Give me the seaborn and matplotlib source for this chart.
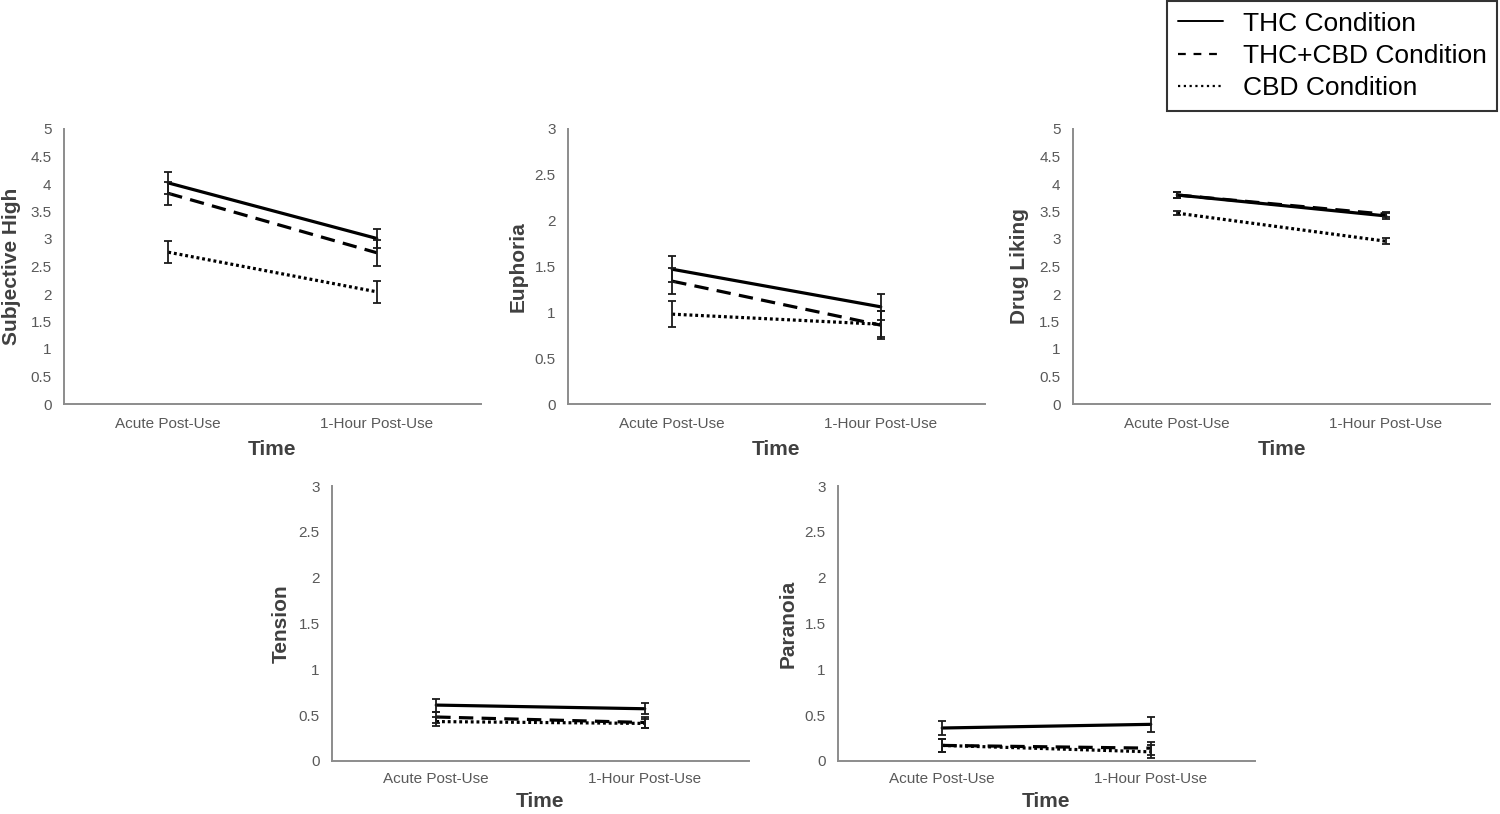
import numpy as np
import pandas as pd
import matplotlib
matplotlib.use("Agg")
import matplotlib.pyplot as plt
from matplotlib.lines import Line2D
from matplotlib.ticker import FuncFormatter, MultipleLocator
import seaborn as sns

sns.set_theme(style="white")
plt.rcParams['font.family'] = ['Liberation Sans', 'DejaVu Sans']

conditions = ["THC Condition", "THC+CBD Condition", "CBD Condition"]
times = ["Acute Post-Use", "1-Hour Post-Use"]

# Subjective High
high_thc = [4.02, 3.01]
high_thc_cbd = [3.83, 2.75]
high_cbd = [2.76, 2.04]
high_thc_err = [0.20, 0.18]
high_thc_cbd_err = [0.21, 0.24]
high_cbd_err = [0.20, 0.20]

# Euphoria
eup_thc = [1.47, 1.06]
eup_thc_cbd = [1.34, 0.86]
eup_cbd = [0.98, 0.87]
eup_thc_err = [0.14, 0.14]
eup_thc_cbd_err = [0.14, 0.15]
eup_cbd_err = [0.14, 0.14]

# Drug Liking
lik_thc = [3.80, 3.42]
lik_thc_cbd = [3.80, 3.45]
lik_cbd = [3.47, 2.96]
lik_thc_err = [0.05, 0.06]
lik_thc_cbd_err = [0.05, 0.05]
lik_cbd_err = [0.04, 0.05]

# Tension
ten_thc = [0.61, 0.57]
ten_thc_cbd = [0.48, 0.42]
ten_cbd = [0.43, 0.41]
ten_thc_err = [0.07, 0.06]
ten_thc_cbd_err = [0.06, 0.06]
ten_cbd_err = [0.05, 0.05]

# Paranoia
par_thc = [0.36, 0.40]
par_thc_cbd = [0.17, 0.14]
par_cbd = [0.17, 0.10]
par_thc_err = [0.08, 0.08]
par_thc_cbd_err = [0.07, 0.07]
par_cbd_err = [0.07, 0.07]

panels = [
    ("Subjective High", 5, [high_thc, high_thc_cbd, high_cbd], [high_thc_err, high_thc_cbd_err, high_cbd_err]),
    ("Euphoria", 3, [eup_thc, eup_thc_cbd, eup_cbd], [eup_thc_err, eup_thc_cbd_err, eup_cbd_err]),
    ("Drug Liking", 5, [lik_thc, lik_thc_cbd, lik_cbd], [lik_thc_err, lik_thc_cbd_err, lik_cbd_err]),
    ("Tension", 3, [ten_thc, ten_thc_cbd, ten_cbd], [ten_thc_err, ten_thc_cbd_err, ten_cbd_err]),
    ("Paranoia", 3, [par_thc, par_thc_cbd, par_cbd], [par_thc_err, par_thc_cbd_err, par_cbd_err]),
]

W, H = 1500, 814
fig = plt.figure(figsize=(15, 8.14), dpi=100)

# axes boxes in pixels: left, top, right, bottom
boxes = [
    (64, 129, 481, 404),
    (568, 129, 985, 404),
    (1073, 129, 1490, 404),
    (332, 486, 749, 761),
    (838, 486, 1255, 761),
]
ylab_x = [-0.104, -0.098, -0.105, -0.098, -0.098]
xlab_pad = [7, 7, 7, 4, 4]
xtick_pad = [9, 9, 9, 8, 8]

dash_map = {
    "THC Condition": "",
    "THC+CBD Condition": (4.5, 2.6),
    "CBD Condition": (0.9, 0.9),
}
tick_color = "#595959"
label_color = "#404040"
spine_color = "#8c8c8c"

for (name, ymax, means, errs), (l, t, r, b), lx, xp, tp in zip(panels, boxes, ylab_x, xlab_pad, xtick_pad):
    ax = fig.add_axes([l / W, 1 - b / H, (r - l) / W, (b - t) / H])
    rows = []
    for cond, m in zip(conditions, means):
        for tm, v in zip(times, m):
            rows.append({"Time": tm, "Score": v, "Condition": cond})
    df = pd.DataFrame(rows)
    sns.lineplot(data=df, x="Time", y="Score", style="Condition", style_order=conditions,
                 dashes=dash_map, color="black", linewidth=2.3, sort=False,
                 legend=False, ax=ax)
    for cond, m, e in zip(conditions, means, errs):
        ax.errorbar(times, m, yerr=e, fmt="none", ecolor="#1a1a1a",
                    elinewidth=1.3, capsize=3, capthick=1.3, zorder=3)
    ax.set_xlim(-0.5, 1.5)
    ax.set_ylim(0, ymax)
    ax.yaxis.set_major_locator(MultipleLocator(0.5))
    ax.yaxis.set_major_formatter(FuncFormatter(lambda v, p: f"{v:g}"))
    ax.tick_params(axis="both", length=0, labelsize=11, colors=tick_color)
    ax.tick_params(axis="y", pad=9)
    ax.tick_params(axis="x", pad=tp)
    for s in ["top", "right"]:
        ax.spines[s].set_visible(False)
    for s in ["left", "bottom"]:
        ax.spines[s].set_color(spine_color)
        ax.spines[s].set_linewidth(1.4)
    ax.set_xlabel("Time", fontsize=15, fontweight="bold", color=label_color, labelpad=xp)
    ax.set_ylabel(name, fontsize=15, fontweight="bold", color=label_color)
    ax.yaxis.set_label_coords(lx, 0.5)
    ax.grid(False)

handles = [
    Line2D([0], [0], color="black", lw=1.4, linestyle="-"),
    Line2D([0], [0], color="black", lw=1.6, linestyle=(0, (3.5, 3.5))),
    Line2D([0], [0], color="black", lw=1.6, linestyle=(0, (1, 1.6))),
]
leg = fig.legend(handles, conditions, loc="upper right", bbox_to_anchor=(1497 / W, 1 - 1 / H),
                 fontsize=19, frameon=True, fancybox=False, handlelength=1.7,
                 handletextpad=0.75, labelspacing=0.32, borderpad=0.4, borderaxespad=0,
                 labelcolor="black")
leg.get_frame().set_edgecolor("black")
leg.get_frame().set_linewidth(1.5)

fig.savefig("out.png", dpi=100, facecolor="white")
